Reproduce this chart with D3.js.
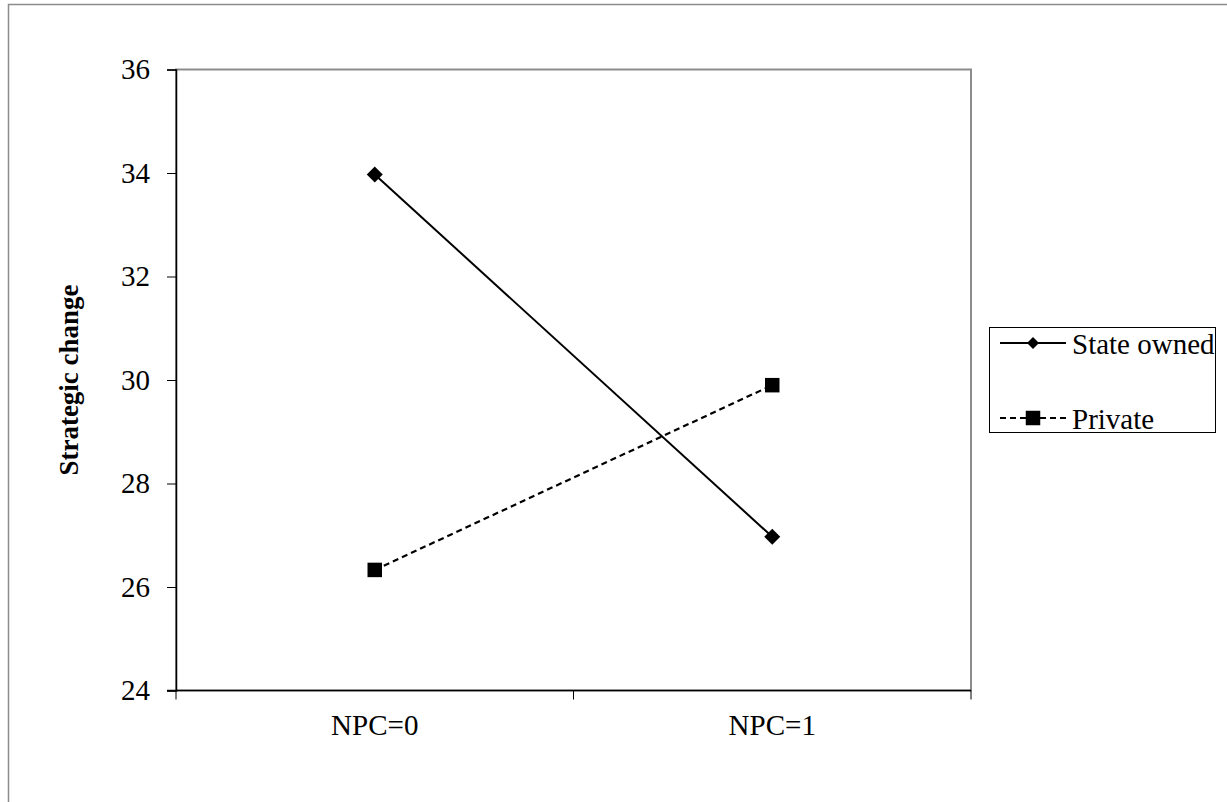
<!DOCTYPE html>
<html>
<head>
<meta charset="utf-8">
<script src="https://cdn.jsdelivr.net/npm/d3@7.9.0/dist/d3.min.js"></script>
<style>
  body { margin: 0; background: #fff; }
  text { font-family: 'Liberation Serif', 'Times New Roman', serif; }
</style>
</head>
<body>
<svg id="chart"></svg>
<script>
// Values
const categories = ['NPC=0', 'NPC=1'];
const stateOwned = [33.97, 26.97];
const privateFirms = [26.33, 29.9];
const yTicks = [24, 26, 28, 30, 32, 34, 36];

const width = 1227;
const height = 802;
const margin = { top: 69.5, right: 256, bottom: 111.5, left: 176 };
const fontSize = 29;

const svg = d3.select('#chart').attr('width', width).attr('height', height);

// outer chart frame (left and top edges are visible)
svg.append('rect')
  .attr('x', 8.5).attr('y', 4.5)
  .attr('width', width + 10).attr('height', height + 10)
  .attr('fill', 'none').attr('stroke', '#8c8c8c').attr('stroke-width', 1.5);

const xScale = d3.scaleBand()
  .domain(categories)
  .range([margin.left, width - margin.right]);

const yScale = d3.scaleLinear()
  .domain([24, 36])
  .range([height - margin.bottom, margin.top]);

// plot area border (gray on top and right)
svg.append('rect')
  .attr('x', margin.left).attr('y', margin.top)
  .attr('width', width - margin.left - margin.right)
  .attr('height', height - margin.top - margin.bottom)
  .attr('fill', 'none').attr('stroke', '#8c8c8c').attr('stroke-width', 2);

const yAxis = d3.axisLeft(yScale).tickValues(yTicks).tickSize(9).tickPadding(17);
const gy = svg.append('g')
  .attr('transform', `translate(${margin.left}, 0)`)
  .call(yAxis);
gy.attr('font-size', fontSize).attr('font-family', "'Liberation Serif', serif");
gy.select('.domain').attr('stroke', '#000').attr('stroke-width', 1.5);
gy.selectAll('.tick line').attr('stroke', '#000');
gy.selectAll('.tick text').attr('fill', '#000');

// x axis: ticks at the category boundaries
const bounds = [margin.left, ...categories.map((c) => xScale(c) + xScale.bandwidth())];
const gx = svg.append('g')
  .attr('transform', `translate(0, ${height - margin.bottom})`);
gx.append('line')
  .attr('x1', margin.left - 9).attr('x2', width - margin.right)
  .attr('stroke', '#000').attr('stroke-width', 1.5);
gx.selectAll('.bt').data(bounds).join('line')
  .attr('x1', (d) => d).attr('x2', (d) => d)
  .attr('y1', 0).attr('y2', 9).attr('stroke', '#000');
gx.selectAll('.lbl').data(categories).join('text')
  .attr('x', (d) => xScale(d) + xScale.bandwidth() / 2)
  .attr('y', 44)
  .attr('text-anchor', 'middle')
  .attr('font-size', fontSize)
  .text((d) => d);

// y axis title
svg.append('text')
  .attr('transform', `translate(78, ${(margin.top + height - margin.bottom) / 2}) rotate(-90)`)
  .attr('text-anchor', 'middle')
  .attr('font-size', 27)
  .attr('font-weight', 'bold')
  .text('Strategic change');

const cx = (d, i) => xScale(categories[i]) + xScale.bandwidth() / 2;
const line = d3.line().x(cx).y((d) => yScale(d));

svg.append('path').datum(stateOwned)
  .attr('d', line).attr('fill', 'none')
  .attr('stroke', '#000').attr('stroke-width', 2);

svg.append('path').datum(privateFirms)
  .attr('d', line).attr('fill', 'none')
  .attr('stroke', '#000').attr('stroke-width', 2.2)
  .attr('stroke-dasharray', '6,4');

const square = d3.symbol().type(d3.symbolSquare);

svg.selectAll('.so').data(stateOwned).join('path')
  .attr('transform', (d, i) => `translate(${cx(d, i)}, ${yScale(d)}) rotate(45)`)
  .attr('d', square.size(128)())
  .attr('fill', '#000');

svg.selectAll('.pv').data(privateFirms).join('path')
  .attr('transform', (d, i) => `translate(${cx(d, i)}, ${yScale(d)})`)
  .attr('d', square.size(210)())
  .attr('fill', '#000');

// legend
const legend = svg.append('g');
legend.append('rect')
  .attr('x', 989.5).attr('y', 327.5).attr('width', 226).attr('height', 105)
  .attr('fill', '#fff').attr('stroke', '#000').attr('stroke-width', 1);

const items = [
  { name: 'State owned', dash: null, y: 343, mark: 'diamond' },
  { name: 'Private', dash: '6,4', y: 418, mark: 'square' },
];
items.forEach((it) => {
  legend.append('line')
    .attr('x1', 1000).attr('x2', 1066).attr('y1', it.y).attr('y2', it.y)
    .attr('stroke', '#000').attr('stroke-width', 2)
    .attr('stroke-dasharray', it.dash);
  legend.append('path')
    .attr('transform', `translate(1033, ${it.y})` + (it.mark === 'diamond' ? ' rotate(45)' : ''))
    .attr('d', it.mark === 'diamond' ? square.size(72)() : square.size(210)())
    .attr('fill', '#000');
  legend.append('text')
    .attr('x', 1072).attr('y', it.y + 11)
    .attr('font-size', fontSize)
    .text(it.name);
});
</script>
</body>
</html>
